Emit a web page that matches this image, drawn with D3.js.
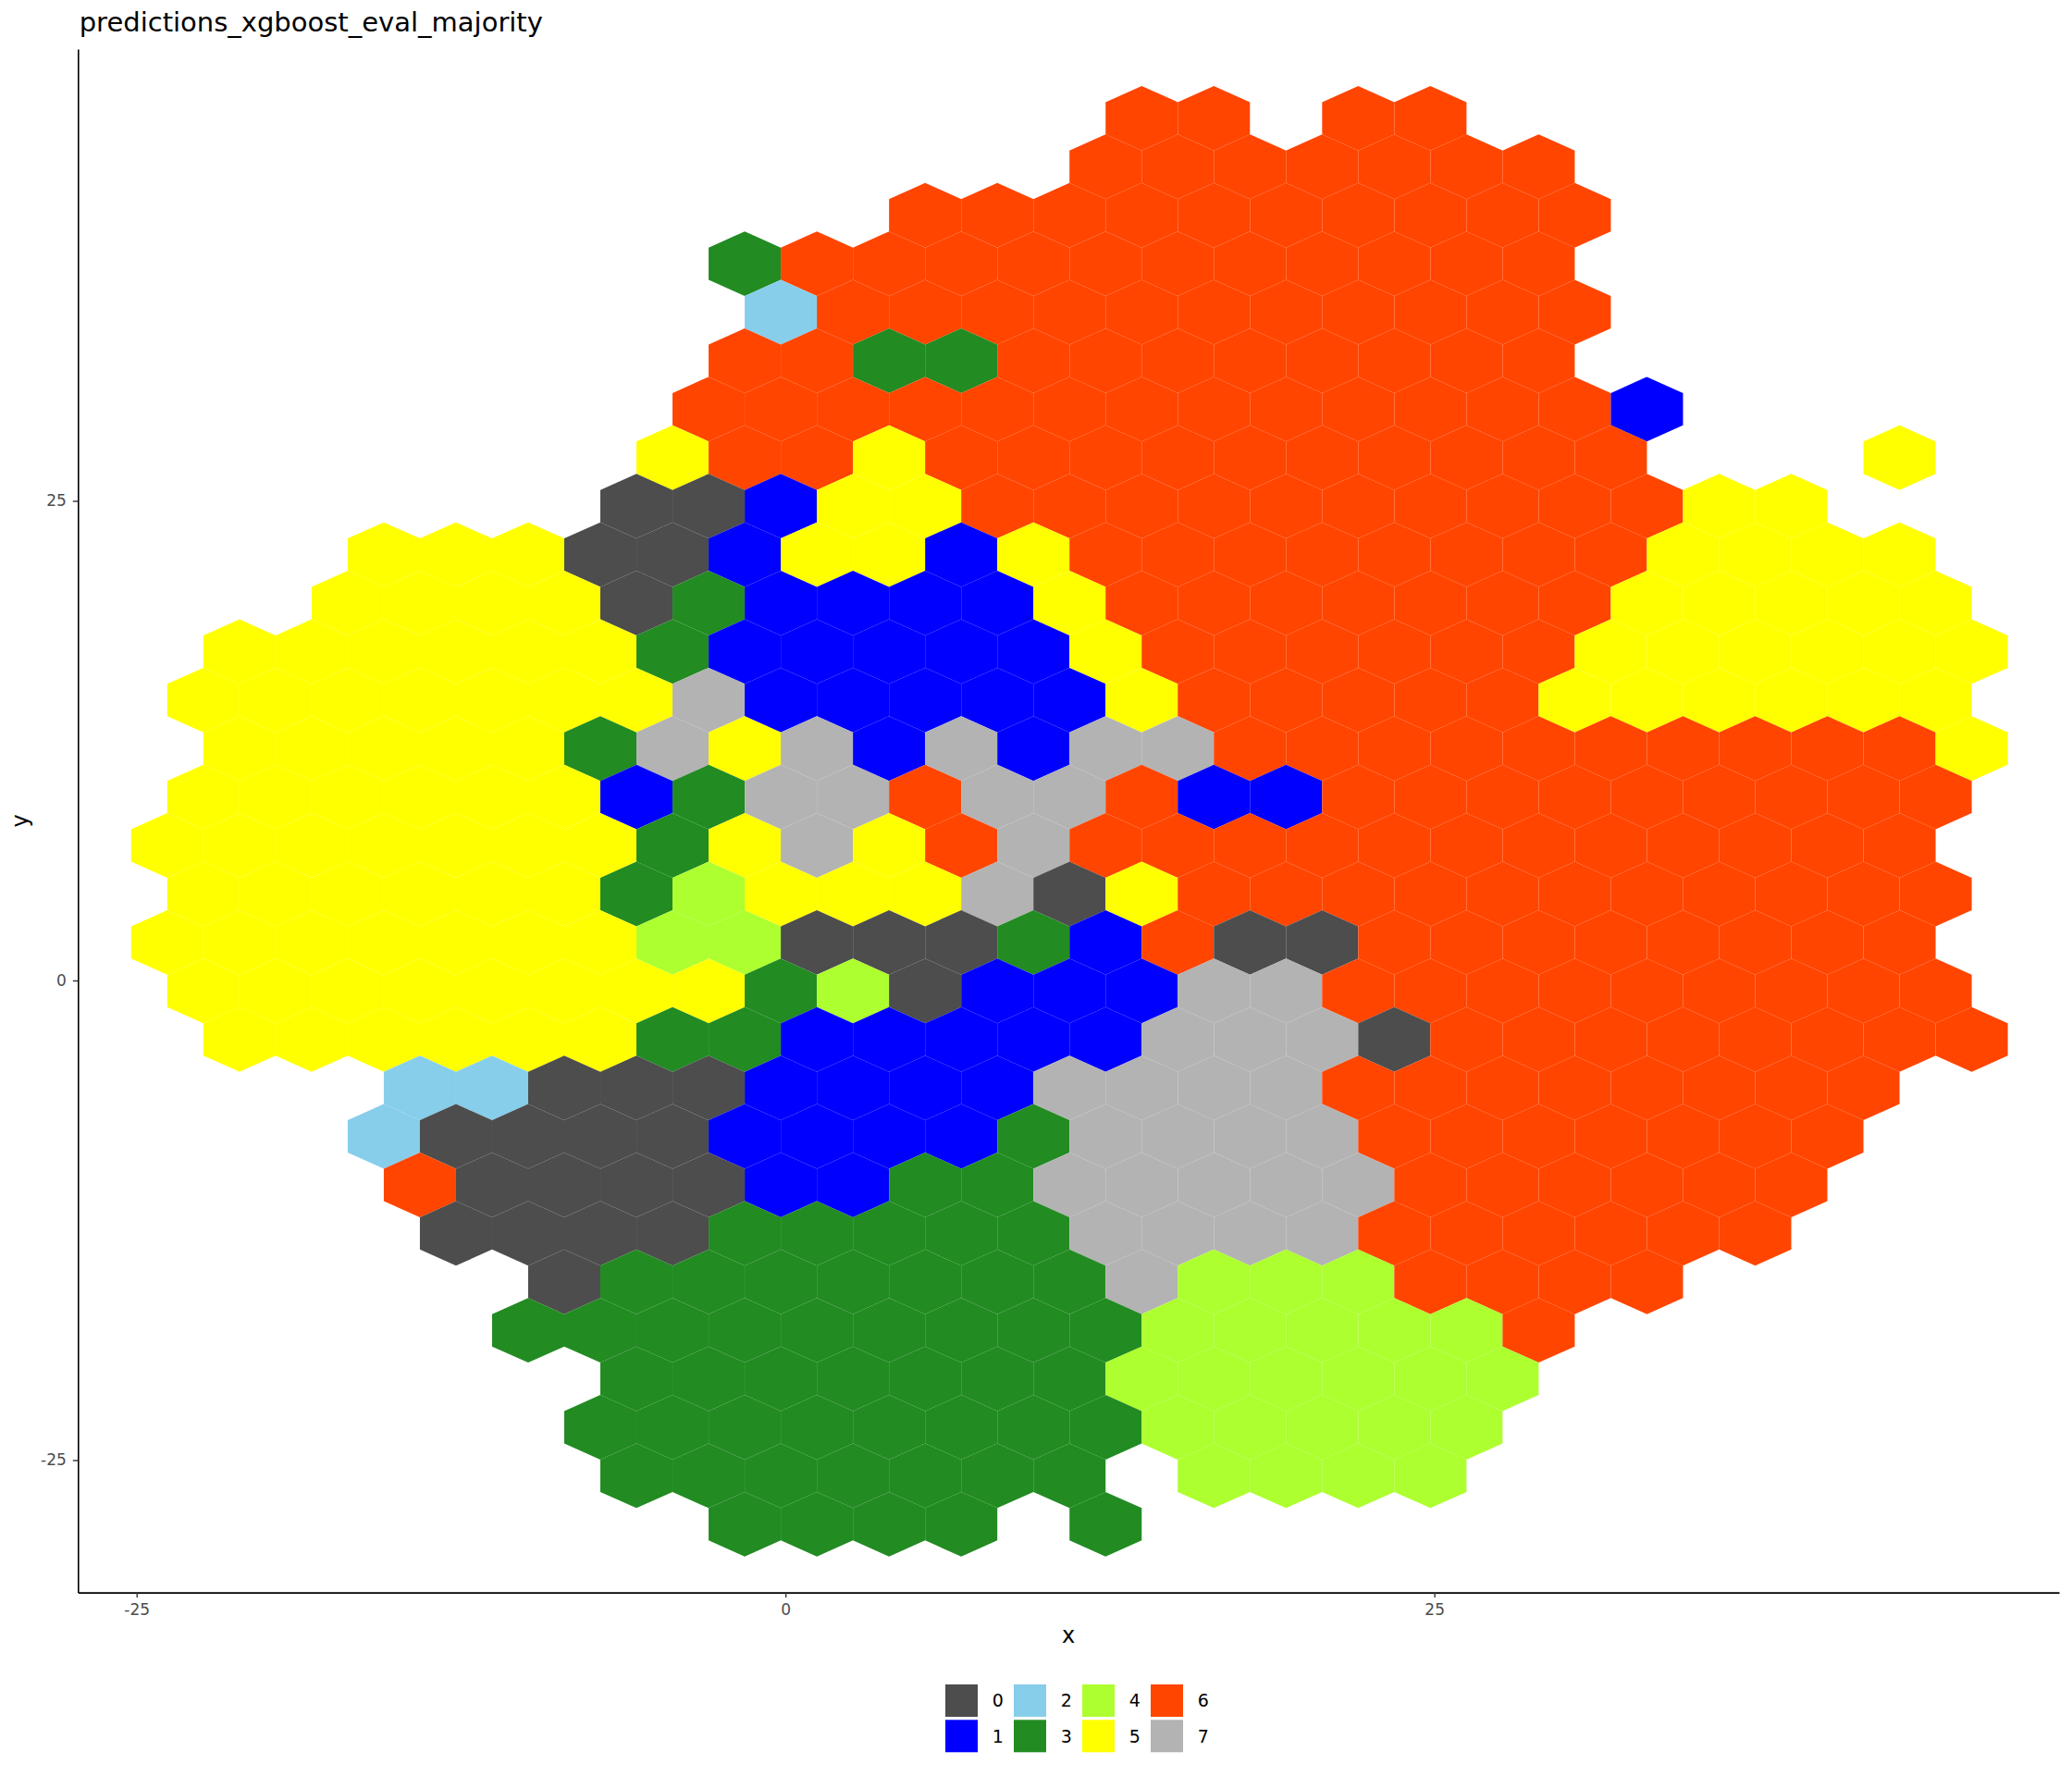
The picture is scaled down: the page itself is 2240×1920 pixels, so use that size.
<!DOCTYPE html>
<html>
<head>
<meta charset="utf-8">
<script src="https://cdnjs.cloudflare.com/ajax/libs/d3/7.8.5/d3.min.js"></script>
<style>
  body { margin: 0; background: #ffffff; }
  text { font-family: "DejaVu Sans", sans-serif; }
</style>
</head>
<body>
<div class="chart"></div>
<script>
// class labels and their fill colours
var classes = ["0", "1", "2", "3", "4", "5", "6", "7"];
var classColors = ["#4d4d4d", "#0000ff", "#87ceeb", "#228b22", "#adff2f", "#ffff00", "#ff4500", "#b3b3b3"];

// majority class of each hex cell, one string per hex row from top to bottom
// ("." = no data). odd rows are shifted half a bin to the left.
var hexRows = [
  "..............66.66........",
  "..............6666666......",
  "...........6666666666......",
  ".........366666666666......",
  ".........266666666666......",
  ".........663366666666......",
  "........66666666666661.....",
  "........56656666666666...5.",
  ".......00155666666666655...",
  "....5550015515666666665555.",
  "...55550311115666666655555.",
  "..5555553111115666666555555",
  ".5555555711111566666555555.",
  "..5555537571717766666666665",
  ".5555551377677611666666666.",
  ".5555555357567666666666666.",
  ".5555553455570566666666666.",
  ".5555555440003160066666666.",
  ".5555555534011177666666666.",
  "..5555553311111777066666666",
  "....220001111777766666666..",
  "....200001111377776666666..",
  "....60000113377777666666...",
  ".....0000333337777666666...",
  "......0333333374446666.....",
  "......333333333444446......",
  ".......3333333444444.......",
  ".......3333333344444.......",
  ".......3333333.4444........",
  ".........3333.3............"
];

var xTicks = [-25, 0, 25];
var yTicks = [-25, 0, 25];

// panel limits in data units
var xLimits = [-27.26, 49.07];
var yLimits = [-31.9, 48.55];

// hex grid (data units)
var binWidth = 2.781;
var rowStep = 2.527;
var hexRadius = rowStep / 1.5;
var xStart = -25.21;
var yStart = 44.94;

var svgWidth = 2240;
var svgHeight = 1920;

var panel = { left: 84.3, right: 2226, top: 53, bottom: 1721.6 };

var svg = d3.select(".chart")
  .append("svg")
  .attr("width", svgWidth)
  .attr("height", svgHeight)
  .style("display", "block");

svg.append("rect")
  .attr("width", svgWidth)
  .attr("height", svgHeight)
  .attr("fill", "#ffffff");

var xScale = d3.scaleLinear().domain(xLimits).range([panel.left, panel.right]);
var yScale = d3.scaleLinear().domain(yLimits).range([panel.bottom, panel.top]);

// flatten the rows into cells
var cells = [];
hexRows.forEach(function(row, r) {
  var shift = (r % 2 === 1) ? -binWidth / 2 : 0;
  for (var i = 0; i < row.length; i++) {
    var c = row.charAt(i);
    if (c === ".") continue;
    cells.push({
      cx: xStart + i * binWidth + shift,
      cy: yStart - r * rowStep,
      cls: +c
    });
  }
});

function hexPoints(d) {
  var hw = binWidth / 2;
  var r = hexRadius;
  var pts = [
    [d.cx, d.cy + r],
    [d.cx + hw, d.cy + r / 2],
    [d.cx + hw, d.cy - r / 2],
    [d.cx, d.cy - r],
    [d.cx - hw, d.cy - r / 2],
    [d.cx - hw, d.cy + r / 2]
  ];
  return pts.map(function(p) { return xScale(p[0]) + "," + yScale(p[1]); }).join(" ");
}

svg.append("g")
  .selectAll("polygon")
  .data(cells)
  .enter()
  .append("polygon")
  .attr("points", hexPoints)
  .attr("fill", function(d) { return classColors[d.cls]; });

// axes
var xAxis = d3.axisBottom(xScale).tickValues(xTicks).tickSize(5.5).tickSizeOuter(0).tickPadding(7)
  .tickFormat(d3.format("d"));
var yAxis = d3.axisLeft(yScale).tickValues(yTicks).tickSize(5.5).tickSizeOuter(0).tickPadding(7)
  .tickFormat(d3.format("d"));

var gx = svg.append("g")
  .attr("transform", `translate(0, ${panel.bottom})`)
  .call(xAxis);

var gy = svg.append("g")
  .attr("transform", `translate(${panel.left}, 0)`)
  .call(yAxis);

[gx, gy].forEach(function(g) {
  g.select(".domain").attr("stroke", "#000000").attr("stroke-width", 1.6);
  g.selectAll(".tick line").attr("stroke", "#333333").attr("stroke-width", 1.4);
  g.selectAll(".tick text")
    .attr("font-family", "DejaVu Sans")
    .attr("font-size", "17px")
    .attr("fill", "#4d4d4d")
    .text(function(d) { return String(d).replace("\u2212", "-"); });
});

// axis titles
svg.append("text")
  .attr("x", (panel.left + panel.right) / 2)
  .attr("y", 1775.5)
  .attr("text-anchor", "middle")
  .attr("font-size", "24px")
  .attr("fill", "#000000")
  .text("x");

svg.append("text")
  .attr("transform", `translate(30, ${(panel.top + panel.bottom) / 2}) rotate(-90)`)
  .attr("text-anchor", "middle")
  .attr("font-size", "24px")
  .attr("fill", "#000000")
  .text("y");

// title
svg.append("text")
  .attr("x", 85.7)
  .attr("y", 33.5)
  .attr("font-size", "29px")
  .attr("fill", "#000000")
  .text("predictions_xgboost_eval_majority");

// legend: 4 columns x 2 rows, filled column by column
var legend = svg.append("g").attr("transform", "translate(1022, 1821)");

var items = legend.selectAll("g")
  .data(classes)
  .enter()
  .append("g")
  .attr("transform", function(d, i) {
    return `translate(${Math.floor(i / 2) * 74}, ${(i % 2) * 38.3})`;
  });

items.append("rect")
  .attr("width", 35)
  .attr("height", 35)
  .attr("fill", function(d, i) { return classColors[i]; });

items.append("text")
  .attr("x", 50.7)
  .attr("y", 17.5)
  .attr("dy", "0.36em")
  .attr("font-size", "19px")
  .attr("fill", "#000000")
  .text(function(d) { return d; });
</script>
</body>
</html>
